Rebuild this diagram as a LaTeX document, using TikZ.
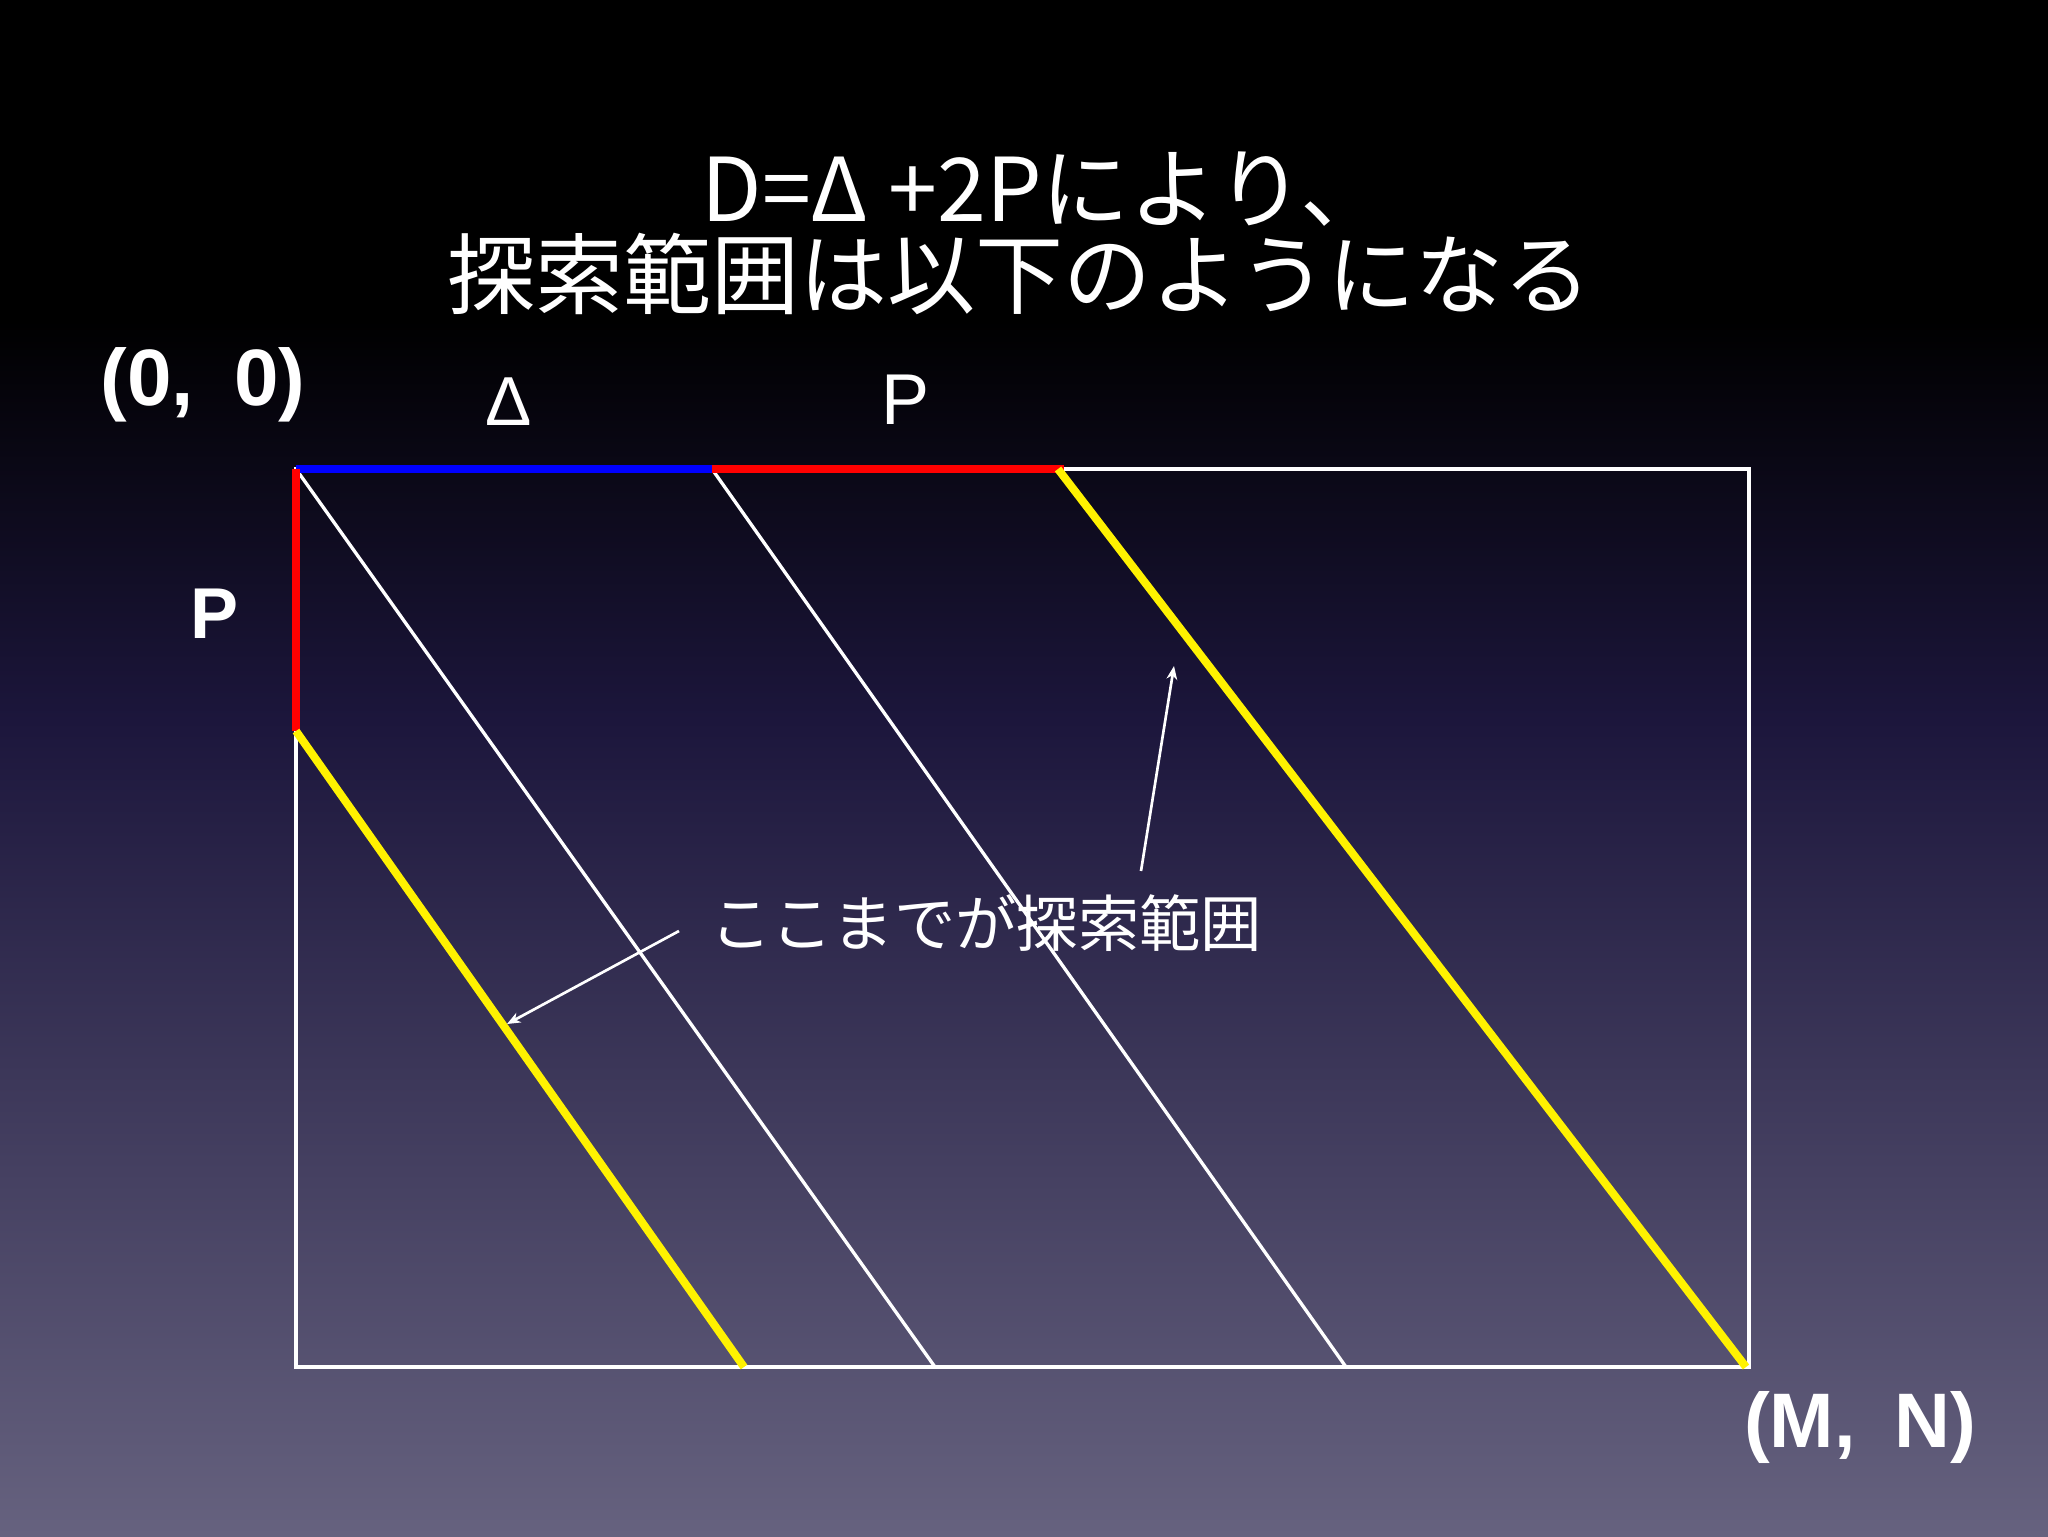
\documentclass[tikz,border=0pt]{standalone}
\usepackage{fontspec}
\setmainfont{Liberation Sans}
\newfontfamily\jpfont{Noto Sans CJK JP}
\usetikzlibrary{arrows.meta}

\definecolor{bgmid}{RGB}{28,22,60}
\definecolor{bgbot}{RGB}{102,98,127}
\tikzset{
  gridline/.style={draw=white, line width=2.5pt},
  markline/.style={line width=6pt},
  pointer/.style={draw=white, line width=2pt, -{Stealth[length=10pt,width=8pt,inset=3pt]}},
  label/.style={text=white, inner sep=0pt},
}

\begin{document}
\begin{tikzpicture}[x=0.75pt,y=0.75pt,yscale=-1,xscale=1]
\useasboundingbox (0,0) rectangle (2048,1536);

%Background
\fill[black] (0,0) rectangle (2048,320);
\shade[top color=black, bottom color=bgmid] (0,320) rectangle (2048,720);
\shade[top color=bgmid, bottom color=bgbot] (0,720) rectangle (2048,1536);

%Corners and split points
\coordinate (org) at (296,469);
\coordinate (topright) at (1749,469);
\coordinate (botright) at (1749,1367);
\coordinate (botleft) at (296,1367);
\coordinate (deltaend) at (712,469);
\coordinate (pend) at (1064,469);
\coordinate (pleft) at (296,731);

%Titles
\node[label, font=\jpfont\fontsize{66}{68}\selectfont] (title1) at (1045,189) {D=Δ +2Pにより、};
\node[label, font=\jpfont\fontsize{66}{68}\selectfont] (title2) at (1019,274) {探索範囲は以下のようになる};

%Grid
\draw[gridline] (org) rectangle (botright);
\draw[gridline] (org) -- (935,1367);
\draw[gridline] (deltaend) -- (1346,1367);

%Coloured edges
\draw[markline, blue] (org) -- (deltaend);
\draw[markline, red] (deltaend) -- (pend);
\draw[markline, red] (org) -- (pleft);
\draw[markline, yellow] (pleft) -- (744,1367);
\draw[markline, yellow] (1058,469) -- (1746,1367);

%Labels
\node[label, font=\bfseries\fontsize{60}{62}\selectfont] (orglabel) at (203,385) {(0,\enspace0)};
\node[label, font=\fontsize{52}{54}\selectfont] (deltalabel) at (509,402) {Δ};
\node[label, font=\fontsize{54}{56}\selectfont] (ptop) at (905,400) {P};
\node[label, font=\bfseries\fontsize{54}{56}\selectfont] (pside) at (215,614) {P};
\node[label, font=\bfseries\fontsize{58}{60}\selectfont] (mnlabel) at (1860,1427) {(M,\enspace N)};

%Note and pointers
\node[label, font=\jpfont\fontsize{46}{48}\selectfont] (note) at (986,923) {ここまでが探索範囲};
\coordinate (tail1) at (679,931);
\coordinate (tip1) at (507,1024);
\coordinate (tail2) at (1141,871);
\coordinate (tip2) at (1174,666);
\draw[pointer] (tail1) -- (tip1);
\draw[pointer] (tail2) -- (tip2);

\end{tikzpicture}
\end{document}
